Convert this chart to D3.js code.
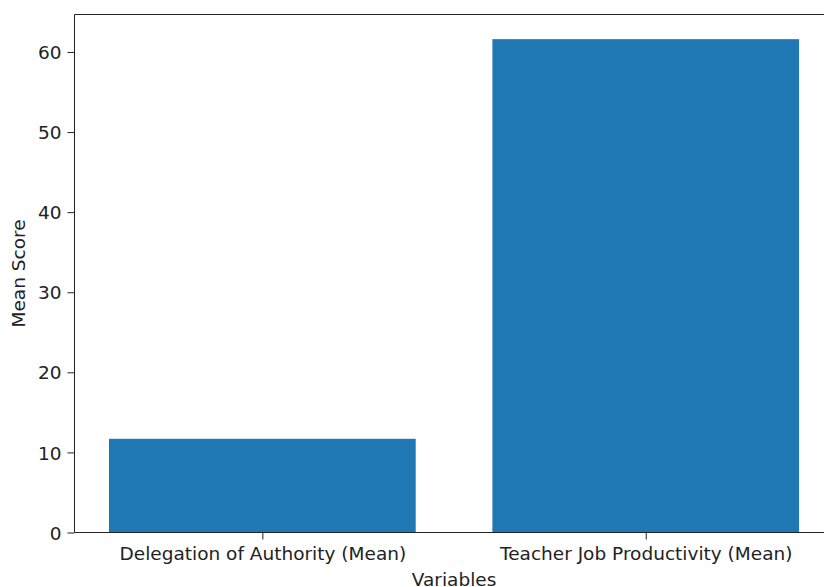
<!DOCTYPE html>
<html><head><meta charset="utf-8">
<script src="https://cdn.jsdelivr.net/npm/d3@7"></script>
<style>body{margin:0;background:#fff}svg{display:block}text{font-family:"DejaVu Sans",sans-serif;fill:#222}</style>
</head><body><svg id="c" width="824" height="587"></svg>
<script>
const categories = ["Delegation of Authority (Mean)", "Teacher Job Productivity (Mean)"];
const values = [11.7, 61.6];
const yTicks = [0, 10, 20, 30, 40, 50, 60];

(function () {
const svg = d3.select("#c");
const fs = 18.5;
const mLeft = 74.5, mTop = 14.5, mBottom = 532.5, mRight = 833.6;
const x = d3.scaleLinear().domain([-0.49, 1.49]).range([mLeft, mRight]);
const y = d3.scaleLinear().domain([0, 64.68]).range([mBottom, mTop]);
// bars
svg.selectAll("rect.bar").data(values).join("rect")
  .attr("class", "bar")
  .attr("x", (d, i) => x(i - 0.4)).attr("width", (d, i) => x(i + 0.4) - x(i - 0.4))
  .attr("y", d => y(d)).attr("height", d => y(0) - y(d))
  .attr("fill", "#1f77b4");
// axes
const ya = d3.axisLeft(y).tickValues(yTicks).tickSize(7).tickPadding(6).tickFormat(d3.format("d"));
const gy = svg.append("g").attr("transform", `translate(${mLeft},0)`).call(ya);
const xa = d3.axisBottom(x).tickValues([0, 1]).tickSize(7).tickPadding(7).tickFormat((d) => categories[d]);
const gx = svg.append("g").attr("transform", `translate(0,${mBottom})`).call(xa);
[gx, gy].forEach(g => {
  g.select(".domain").remove();
  g.selectAll("text").attr("font-size", fs).attr("fill", "#222").attr("font-family", "DejaVu Sans");
  g.selectAll("line").attr("stroke", "#222");
});
gy.selectAll("text").attr("dy", "0.36em");
// spines
svg.append("line").attr("x1", mLeft).attr("x2", mLeft).attr("y1", mTop).attr("y2", mBottom).attr("stroke", "#222");
svg.append("line").attr("x1", mLeft).attr("x2", mRight).attr("y1", mBottom).attr("y2", mBottom).attr("stroke", "#222");
svg.append("line").attr("x1", mLeft).attr("x2", mRight).attr("y1", mTop).attr("y2", mTop).attr("stroke", "#222");
svg.append("line").attr("x1", mRight).attr("x2", mRight).attr("y1", mTop).attr("y2", mBottom).attr("stroke", "#222");
// labels
svg.append("text").attr("x", (mLeft + mRight) / 2).attr("y", 586).attr("text-anchor", "middle").attr("font-size", fs).text("Variables");
svg.append("text").attr("transform", `translate(25,${(mTop + mBottom) / 2}) rotate(-90)`).attr("text-anchor", "middle").attr("font-size", fs).text("Mean Score");
})();
</script></body></html>
